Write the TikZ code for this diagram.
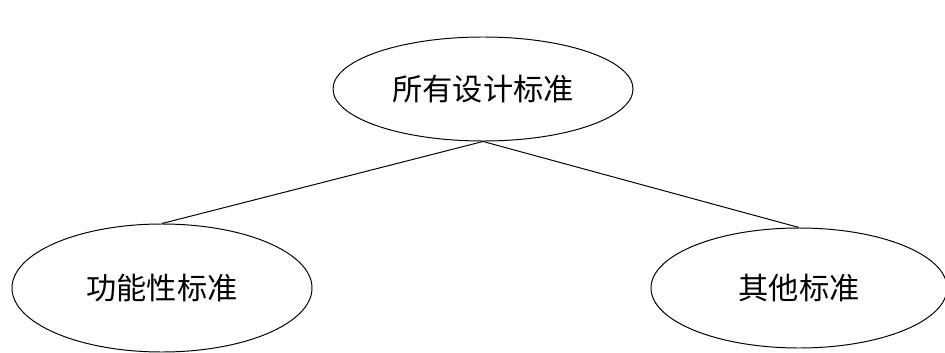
\documentclass[tikz,border=0pt]{standalone}
\usepackage{fontspec}
\newfontfamily\cjk{Noto Sans CJK SC}
\usetikzlibrary{shapes.geometric}

\begin{document}
\begin{tikzpicture}[
	standard/.style={
		ellipse,
		draw=black,
		line width=0.7pt,
		fill=white,
		inner sep=0pt,
		align=center,
		minimum width=7.5cm,
		font=\cjk\fontsize{21.5}{25}\selectfont
	},
	topstandard/.style={
		standard,
		minimum height=2.6cm
	},
	substandard/.style={
		standard,
		minimum height=3.2cm
	},
	edge/.style={line width=0.7pt,black}
]

% Marco
\useasboundingbox (0,0) rectangle (23.625,8.8);

% Nodo superior
\node[topstandard] (all) at (12.075,6.575) {所有设计标准};

% Nodos inferiores
\node[substandard] (func) at (4.05,1.6) {功能性标准};
\node[substandard, minimum width=7.4cm, minimum height=3.0cm] (other) at (19.975,1.6) {其他标准};

% Conexiones
\draw[edge] (all.south) -- (func.north);
\draw[edge] (all.south) -- (other.north);

\end{tikzpicture}
\end{document}
